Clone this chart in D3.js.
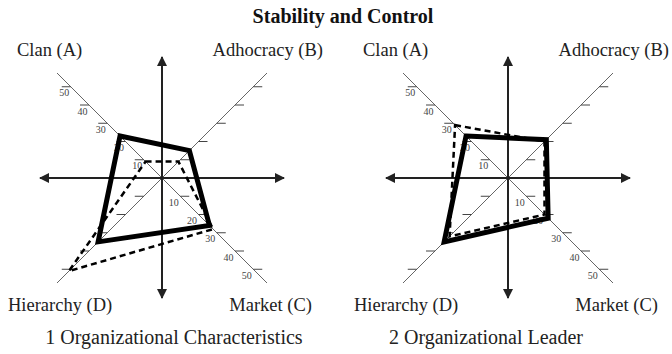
<!DOCTYPE html>
<html>
<head>
<meta charset="utf-8">
<script src="https://cdn.jsdelivr.net/npm/d3@7"></script>
<style>
  html, body { margin: 0; padding: 0; background: #fff; }
  svg text { font-family: "Liberation Serif", "Times New Roman", serif; }
</style>
</head>
<body>
<div id="chart"></div>
<script>
// quadrant names, clockwise from top-left
const quadrants = ['Clan (A)', 'Adhocracy (B)', 'Market (C)', 'Hierarchy (D)'];
const tickValues = [10, 20, 30, 40, 50];
const panelTitles = ['1 Organizational Characteristics', '2 Organizational Leader'];

// solid = now, dashed = preferred (A, B, C, D)
const charNow = [23, 15, 26, 35];
const charPreferred = [9, 9, 28, 51];
const leaderNow = [23, 21, 22, 35];
const leaderPreferred = [29, 20, 20, 32];

const W = 672, H = 354;
const svg = d3.select('#chart').append('svg')
    .attr('width', W)
    .attr('height', H);

const defs = svg.append('defs');
defs.append('marker')
    .attr('id', 'arrow')
    .attr('viewBox', '0 0 10 10')
    .attr('refX', 9).attr('refY', 5)
    .attr('markerWidth', 5).attr('markerHeight', 5)
    .attr('markerUnits', 'strokeWidth')
    .attr('orient', 'auto')
    .append('path')
    .attr('d', 'M0,0 L10,5 L0,10 Z')
    .attr('fill', '#222');

// value -> offset in px along x and along y (axes are 45 deg)
const s = d3.scaleLinear().domain([0, 50]).range([0, 91.25]);
const diagMax = s.invert(105);
const dirs = [[-1, -1], [1, -1], [1, 1], [-1, 1]];

svg.append('text')
    .attr('x', 343)
    .attr('y', 23)
    .attr('text-anchor', 'middle')
    .style('font-weight', 'bold')
    .style('font-size', '20px')
    .attr('fill', '#111')
    .text('Stability and Control');

function drawPanel(cx, cy, title, titleX, nowVals, prefVals) {
    const g = svg.append('g');
    const pt = (i, v) => [cx + dirs[i][0] * s(v), cy + dirs[i][1] * s(v)];

    // diagonals
    dirs.forEach((d, i) => {
        const [x2, y2] = pt(i, diagMax);
        g.append('line')
            .attr('x1', cx).attr('y1', cy)
            .attr('x2', x2).attr('y2', y2)
            .attr('stroke', '#666')
            .attr('stroke-width', 1);
    });

    // main axes with arrows
    [[cx, cy, cx - 122, cy], [cx, cy, cx + 122, cy], [cx, cy, cx, cy - 121], [cx, cy, cx, cy + 120]]
        .forEach(a => {
            g.append('line')
                .attr('x1', a[0]).attr('y1', a[1])
                .attr('x2', a[2]).attr('y2', a[3])
                .attr('stroke', '#222')
                .attr('stroke-width', 2)
                .attr('marker-end', 'url(#arrow)');
        });

    // ticks on each diagonal
    dirs.forEach((d, i) => {
        tickValues.forEach(t => {
            const [x, y] = pt(i, t);
            g.append('line')
                .attr('x1', x).attr('y1', y)
                .attr('x2', x + d[0] * 9).attr('y2', y)
                .attr('stroke', '#444')
                .attr('stroke-width', 1);
        });
    });

    // tick labels on Clan and Market
    [0, 2].forEach(i => {
        tickValues.forEach(t => {
            const [x, y] = pt(i, t);
            g.append('text')
                .attr('x', x - 1.5)
                .attr('y', y + 9.5)
                .attr('text-anchor', 'end')
                .style('font-size', '10px')
                .attr('fill', '#444')
                .text(t);
        });
    });

    const line = d3.line().curve(d3.curveLinearClosed);

    g.append('path')
        .attr('d', line(prefVals.map((v, i) => pt(i, v))))
        .attr('fill', 'none')
        .attr('stroke', '#000')
        .attr('stroke-width', 2.5)
        .attr('stroke-dasharray', '6,4');

    g.append('path')
        .attr('d', line(nowVals.map((v, i) => pt(i, v))))
        .attr('fill', 'none')
        .attr('stroke', '#000')
        .attr('stroke-width', 5)
        .attr('stroke-linejoin', 'miter');

    // quadrant names
    const namePos = [
        [cx - 145, cy - 122, 'start'],
        [cx + 161, cy - 122, 'end'],
        [cx + 150, cy + 133, 'end'],
        [cx - 154, cy + 133, 'start']
    ];
    quadrants.forEach((q, i) => {
        g.append('text')
            .attr('x', namePos[i][0])
            .attr('y', namePos[i][1])
            .attr('text-anchor', namePos[i][2])
            .style('font-size', '18.5px')
            .attr('fill', '#222')
            .text(q);
    });

    g.append('text')
        .attr('x', titleX)
        .attr('y', cy + 166)
        .attr('text-anchor', 'middle')
        .style('font-size', '20px')
        .attr('fill', '#222')
        .text(title);
}

drawPanel(162, 178, panelTitles[0], 174, charNow, charPreferred);
drawPanel(508, 178, panelTitles[1], 486, leaderNow, leaderPreferred);
</script>
</body>
</html>
